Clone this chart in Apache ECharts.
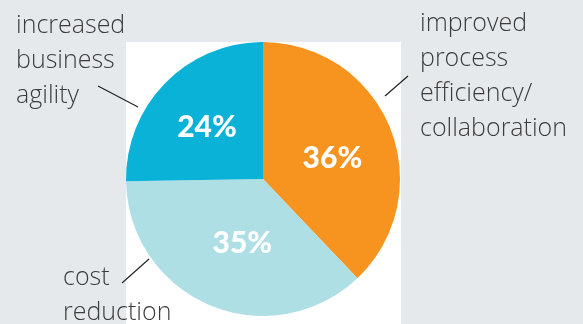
<!DOCTYPE html>
<html>
<head>
<meta charset="utf-8">
<script src="https://cdn.jsdelivr.net/npm/echarts@6/dist/echarts.min.js"></script>
<style>
html,body{margin:0;padding:0;background:#E6E9EC;}
#c{width:583px;height:324px;}
</style>
</head>
<body>
<div id="c"></div>
<script>
const categories = ['improved\nprocess\nefficiency/\ncollaboration', 'cost\nreduction', 'increased\nbusiness\nagility'];
const values = [36, 35, 24];
const colors = ['#F7941F', '#AEDFE5', '#0AB2D8'];

const chart = echarts.init(document.getElementById('c'), null, {renderer: 'canvas'});
const data = categories.map((n, i) => ({name: n, value: values[i], itemStyle: {color: colors[i]}}));
const labelData = categories.map((n, i) => ({name: n, value: values[i]}));
const outerPos = [
  {x: 420, y: 7, align: 'left'},
  {x: 63, y: 261, align: 'left'},
  {x: 16, y: 9, align: 'left'}
];
const nudges = [[3, 6], [7, -2], [-5, -2]];

chart.setOption({
  backgroundColor: '#E6E9EC',
  animation: false,
  graphic: [
    {type: 'rect', z: 0, shape: {x: 126, y: 42, width: 275, height: 282}, style: {fill: '#ffffff'}},
    {type: 'line', z: 5, shape: {x1: 98, y1: 86, x2: 138, y2: 107}, style: {stroke: '#222', lineWidth: 1.2}},
    {type: 'line', z: 5, shape: {x1: 122, y1: 283, x2: 149, y2: 259}, style: {stroke: '#222', lineWidth: 1.2}},
    {type: 'line', z: 5, shape: {x1: 385, y1: 96, x2: 408, y2: 76}, style: {stroke: '#222', lineWidth: 1.2}}
  ],
  series: [
    {
      type: 'pie',
      z: 2,
      center: [263, 179],
      radius: [0, 137],
      startAngle: 90,
      clockwise: true,
      silent: true,
      data: data,
      label: {
        show: true,
        position: 'inside',
        formatter: '{c}%',
        color: '#ffffff',
        fontFamily: 'Lato',
        fontWeight: 900,
        fontSize: 30
      },
      labelLine: {show: false},
      labelLayout: function (p) {
        return {dx: nudges[p.dataIndex][0], dy: nudges[p.dataIndex][1]};
      }
    },
    {
      type: 'pie',
      z: 3,
      center: [263, 179],
      radius: [0, 137],
      startAngle: 90,
      clockwise: true,
      silent: true,
      data: labelData,
      itemStyle: {color: 'rgba(0,0,0,0)'},
      label: {
        show: true,
        position: 'outside',
        formatter: '{b}',
        color: '#3c3c3c',
        fontFamily: 'Open Sans',
        fontWeight: 300,
        fontSize: 25,
        lineHeight: 34.7,
        overflow: 'none',
        width: 300
      },
      labelLine: {show: false},
      labelLayout: function (p) {
        const o = outerPos[p.dataIndex];
        return {x: o.x, y: o.y, align: o.align, verticalAlign: 'top'};
      }
    }
  ]
});
</script>
</body>
</html>
